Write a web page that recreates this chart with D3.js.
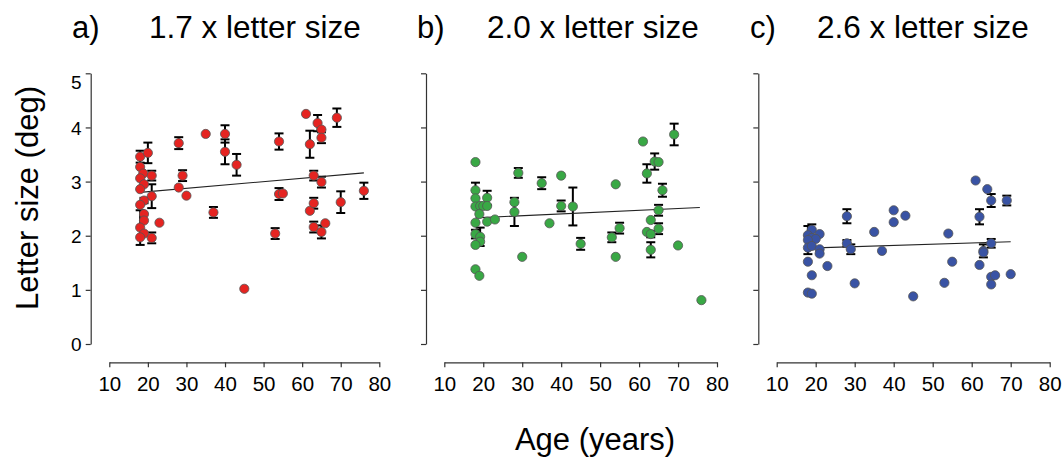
<!DOCTYPE html>
<html><head><meta charset="utf-8">
<script src="https://cdn.jsdelivr.net/npm/d3@7"></script>
<style>
body{margin:0;background:#fff;}
svg{display:block;font-family:"Liberation Sans",Arial,Helvetica,sans-serif;}
</style></head>
<body><svg id="c" width="1063" height="461"></svg>
<script>
// ---- data: [age, letter size (deg), error] ----
const panelLetters = ["a)", "b)", "c)"];
const panelTitles = ["1.7 x letter size", "2.0 x letter size", "2.6 x letter size"];
const xTicks = [10, 20, 30, 40, 50, 60, 70, 80];
const yTicks = [0, 1, 2, 3, 4, 5];
const yTitle = "Letter size (deg)";
const xTitle = "Age (years)";

const dataA = [
  [18,3.46,0.11],[20,3.53,0.19],[18,3.27,0],[18.8,3.15,0],[21,3.11,0.09],[18,3.06,0],
  [19,2.95,0],[18,2.86,0],[21,2.73,0.22],[19,2.65,0.05],[18,2.57,0],[19,2.40,0],
  [19,2.28,0],[18,2.15,0.32],[23,2.24,0],[19,2.04,0],[18,1.97,0],[21,1.96,0.1],
  [28,3.71,0.11],[29,3.11,0.1],[28,2.89,0],[30,2.74,0],[35,3.88,0],[40,3.88,0.16],
  [40,3.55,0.23],[37,2.43,0.1],[43,3.31,0.2],[45,1.02,0],[53,2.04,0.1],[54,3.74,0.15],
  [54,2.77,0.11],[55,2.78,0],[61,4.25,0],[62,3.69,0.25],[62,2.46,0],[63,3.11,0.09],
  [63,2.60,0.1],[63,2.16,0.1],[64,4.08,0.15],[65,3.96,0],[65,3.81,0.1],[65,2.99,0.1],
  [65,2.07,0.12],[66,2.23,0],[69,4.18,0.17],[70,2.62,0.2],[76,2.83,0.15]
];
const dataB = [
  [18,3.36,0],[29,3.16,0.09],[35,2.97,0.11],[40,3.11,0],[18,2.84,0.14],[18,2.69,0],
  [21,2.70,0.13],[18,2.54,0],[19.2,2.55,0],[20,2.55,0],[21,2.55,0],[28,2.62,0],
  [28,2.44,0.26],[37,2.23,0],[19,2.40,0],[18,2.24,0],[21,2.26,0],[23,2.30,0],
  [18,2.03,0.08],[19.2,1.98,0.17],[19.2,1.89,0],[18,1.83,0],[18,1.38,0],[19,1.26,0],
  [30,1.61,0],[40,2.55,0.1],[43,2.54,0.35],[45,1.85,0.11],[54,2.95,0],[55,2.14,0.1],
  [53,1.97,0.09],[54,1.61,0],[61,3.74,0],[69,3.87,0.2],[64,3.37,0.15],[65,3.36,0],
  [62,3.15,0.17],[66,2.84,0.12],[65,2.47,0.1],[63,2.29,0],[62,2.07,0],[65,2.13,0.1],
  [63,2.03,0.06],[63,1.74,0.14],[70,1.82,0],[76,0.81,0]
];
const dataC = [
  [19,2.11,0.1],[18,2.01,0],[21,2.03,0],[19,1.96,0],[20,1.94,0],[18,1.92,0.26],
  [18,1.78,0],[19,1.81,0],[21,1.75,0],[21,1.67,0],[18,1.52,0],[23,1.44,0],
  [19,1.27,0],[18,0.95,0],[19,0.93,0],[28,2.36,0.13],[28,1.86,0.06],[29,1.75,0.09],
  [30,1.12,0],[35,2.07,0],[37,1.72,0],[40,2.47,0],[40,2.25,0],[43,2.37,0],
  [45,0.88,0],[54,2.04,0],[55,1.52,0],[53,1.13,0],[61,3.02,0],[64,2.86,0],
  [65,2.65,0.12],[69,2.65,0.09],[62,2.35,0.14],[65,1.86,0.08],[63,1.72,0.12],[63,1.69,0],
  [62,1.46,0],[65,1.24,0],[66,1.27,0],[65,1.10,0],[70,1.29,0]
];
const fitA = [[18,2.80],[76,3.16]];
const fitB = [[18,2.33],[75.6,2.52]];
const fitC = [[18,1.77],[70,1.89]];

const colors = ["#e52421", "#39a845", "#3953a4"];

// ---- layout ----
const FONT = '"Liberation Sans",Arial,Helvetica,sans-serif';
const layout = [
  {yAxisX: 90.7, x0: 109.3, x1: 379.3, letterX: 72, titleX: 149},
  {yAxisX: 426, x0: 444.3, x1: 717, letterX: 417, titleX: 487},
  {yAxisX: 758.3, x0: 776.7, x1: 1049.7, letterX: 750, titleX: 817}
];
const yTop = 73.3, yBot = 344, xAxisY = 362.3;
const datasets = [dataA, dataB, dataC];
const fits = [fitA, fitB, fitC];

const svg = d3.select("#c");
const y = d3.scaleLinear().domain([0, 5]).range([yBot, yTop]);

layout.forEach((L, i) => {
  const x = d3.scaleLinear().domain([10, 80]).range([L.x0, L.x1]);
  const g = svg.append("g");

  // y axis
  const ya = g.append("g").attr("transform", `translate(${L.yAxisX},0)`)
    .call(d3.axisLeft(y).tickValues(yTicks).tickSize(5).tickSizeOuter(0)
      .tickFormat(i === 0 ? d3.format("d") : ""));
  ya.attr("font-family", FONT);
  ya.select(".domain").attr("stroke", "#333").attr("stroke-width", 1.2);
  ya.selectAll(".tick line").attr("stroke", "#333").attr("stroke-width", 1.2);
  ya.selectAll(".tick text").attr("font-size", 19).attr("fill", "#000").attr("x", -9)
    .attr("dy", d => d === 5 ? "0.8em" : "0.35em");

  // x axis (detached)
  const xa = g.append("g").attr("transform", `translate(0,${xAxisY})`)
    .call(d3.axisBottom(x).tickValues(xTicks).tickSize(5).tickSizeOuter(0).tickFormat(d3.format("d")));
  xa.attr("font-family", FONT);
  xa.select(".domain").attr("stroke", "#333").attr("stroke-width", 1.2);
  xa.selectAll(".tick line").attr("stroke", "#333").attr("stroke-width", 1.2);
  xa.selectAll(".tick text").attr("font-size", 20.5).attr("fill", "#000").attr("y", 14).attr("dy", "0.71em");

  const data = datasets[i];

  // error bars
  const eb = g.append("g").attr("stroke", "#000").attr("stroke-width", 2);
  const withErr = data.filter(d => d[2] > 0);
  eb.selectAll("line.v").data(withErr).join("line").attr("class", "v")
    .attr("x1", d => x(d[0])).attr("x2", d => x(d[0]))
    .attr("y1", d => y(d[1] - d[2])).attr("y2", d => y(d[1] + d[2]));
  eb.selectAll("line.t").data(withErr).join("line").attr("class", "t")
    .attr("x1", d => x(d[0]) - 4.5).attr("x2", d => x(d[0]) + 4.5)
    .attr("y1", d => y(d[1] + d[2])).attr("y2", d => y(d[1] + d[2]));
  eb.selectAll("line.b").data(withErr).join("line").attr("class", "b")
    .attr("x1", d => x(d[0]) - 4.5).attr("x2", d => x(d[0]) + 4.5)
    .attr("y1", d => y(d[1] - d[2])).attr("y2", d => y(d[1] - d[2]));

  // fit line
  g.append("path").datum(fits[i])
    .attr("d", d3.line().x(d => x(d[0])).y(d => y(d[1])))
    .attr("stroke", "#222").attr("stroke-width", 1.1).attr("fill", "none");

  // points
  g.selectAll("circle").data(data).join("circle")
    .attr("cx", d => x(d[0])).attr("cy", d => y(d[1])).attr("r", 4.6)
    .attr("fill", colors[i]).attr("stroke", "#555").attr("stroke-width", 0.8);

  // titles
  svg.append("text").attr("x", L.letterX).attr("y", 38).attr("font-size", 31).text(panelLetters[i]);
  svg.append("text").attr("x", L.titleX).attr("y", 38).attr("font-size", 31.5).text(panelTitles[i]);
});

svg.append("text").attr("transform", "translate(38,198) rotate(-90)")
  .attr("text-anchor", "middle").attr("font-size", 31).text(yTitle);
svg.append("text").attr("x", 595).attr("y", 450).attr("text-anchor", "middle")
  .attr("font-size", 31).text(xTitle);
</script>
</body></html>
